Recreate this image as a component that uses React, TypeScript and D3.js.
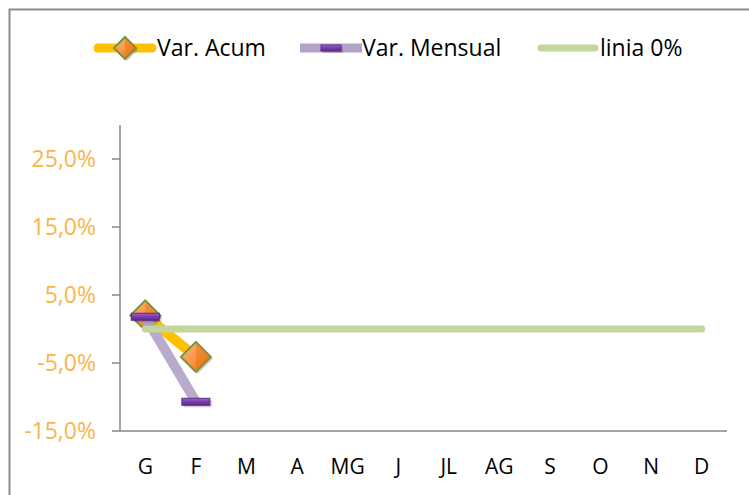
import React from "react";
import * as d3 from "d3";

const months = ["G", "F", "M", "A", "MG", "J", "JL", "AG", "S", "O", "N", "D"];
const varAcum = [2.0, -4.1];
const varMensual = [1.8, -10.7];
const linia0 = [0, 0, 0, 0, 0, 0, 0, 0, 0, 0, 0, 0];
const yTicks = [-15, -5, 5, 15, 25];
const seriesNames = ["Var. Acum", "Var. Mensual", "linia 0%"];

const W = 749;
const H = 495;
const FONT = "'Open Sans', 'Noto Sans', sans-serif";

export default function App() {
  const x = d3.scaleBand<string>().domain(months).range([120, 727]);
  const y = d3.scaleLinear().domain([-15, 30]).range([431, 125]);
  const cx = (i: number) => (x(months[i]) as number) + x.bandwidth() / 2;

  const line = d3
    .line<number>()
    .x((_, i) => cx(i))
    .y((d) => y(d));

  const diamond = (px: number, py: number, r: number) =>
    `M${px},${py - r}L${px + r},${py}L${px},${py + r}L${px - r},${py}Z`;

  const Diamond = ({ px, py, r }: { px: number; py: number; r: number }) => (
    <g>
      <path d={diamond(px + 2, py + 2, r)} fill="#000" opacity={0.18} />
      <path d={diamond(px, py, r)} fill="url(#orangeGrad)" stroke="#77933c" strokeWidth={2} />
      <path d={`M${px},${py - r}L${px},${py + r}L${px + r},${py}Z`} fill="#e46c0a" opacity={0.35} />
    </g>
  );

  const Rect = ({ px, py, w, h }: { px: number; py: number; w: number; h: number }) => (
    <g>
      <rect x={px - w / 2 + 2} y={py - h / 2 + 2} width={w} height={h} fill="#000" opacity={0.18} />
      <rect x={px - w / 2} y={py - h / 2} width={w} height={h} fill="url(#purpleGrad)" stroke="#5b2a86" strokeWidth={1} />
    </g>
  );

  return (
    <div style={{ position: "fixed", left: 0, top: 0 }}>
      <svg width={W} height={H} style={{ display: "block", fontFamily: FONT }}>
        <defs>
          <linearGradient id="orangeGrad" x1="0" y1="0" x2="1" y2="1">
            <stop offset="0%" stopColor="#fbb97a" />
            <stop offset="50%" stopColor="#f79646" />
            <stop offset="100%" stopColor="#e46c0a" />
          </linearGradient>
          <linearGradient id="purpleGrad" x1="0" y1="0" x2="0" y2="1">
            <stop offset="0%" stopColor="#9b6cc9" />
            <stop offset="45%" stopColor="#7b3fb0" />
            <stop offset="100%" stopColor="#5f2590" />
          </linearGradient>
        </defs>
        <rect x={0} y={0} width={W} height={H} fill="#fff" />
        <path d={`M9.5,${H}V9.5H${W}`} fill="none" stroke="#8c8c8c" strokeWidth={2} />

        {/* Legend */}
        <g>
          <line x1={98} x2={152} y1={48} y2={48} stroke="#ffc000" strokeWidth={9} strokeLinecap="round" />
          <Diamond px={125} py={48} r={11} />
          <text x={157} y={56} fontSize={23} fill="#000">{seriesNames[0]}</text>
          <line x1={300} x2={362} y1={48} y2={48} stroke="#b3a2c7" strokeWidth={9} />
          <Rect px={331} py={48} w={20} h={6} />
          <text x={362} y={56} fontSize={23} fill="#000">{seriesNames[1]}</text>
          <line x1={541} x2={595} y1={48} y2={48} stroke="#c3d69b" strokeWidth={7} strokeLinecap="round" />
          <text x={600} y={56} fontSize={23} fill="#000">{seriesNames[2]}</text>
        </g>

        {/* Axes */}
        <line x1={120} x2={120} y1={125} y2={431} stroke="#868686" strokeWidth={1.5} />
        <line x1={120} x2={727} y1={431} y2={431} stroke="#868686" strokeWidth={1.5} />
        {yTicks.map((t) => (
          <g key={t}>
            <line x1={112} x2={120} y1={y(t)} y2={y(t)} stroke="#868686" strokeWidth={1.5} />
            <text x={96} y={y(t) + 8} textAnchor="end" fontSize={23} fill="#f9b44a">
              {t.toFixed(1).replace(".", ",") + "%"}
            </text>
          </g>
        ))}
        {months.map((m, i) => (
          <text key={m} x={cx(i)} y={474} textAnchor="middle" fontSize={21} fill="#000">
            {m}
          </text>
        ))}

        {/* Var. Acum */}
        <path d={line(varAcum) as string} fill="none" stroke="#ffc000" strokeWidth={10} />
        {varAcum.map((v, i) => (
          <Diamond key={i} px={cx(i)} py={y(v)} r={15} />
        ))}

        {/* Var. Mensual */}
        <path d={line(varMensual) as string} fill="none" stroke="#b3a2c7" strokeWidth={10} opacity={0.9} />
        {varMensual.map((v, i) => (
          <Rect key={i} px={cx(i)} py={y(v)} w={28} h={7} />
        ))}

        {/* linia 0% */}
        <path d={line(linia0) as string} fill="none" stroke="#c3d69b" strokeWidth={7} strokeLinecap="round" />
      </svg>
    </div>
  );
}
